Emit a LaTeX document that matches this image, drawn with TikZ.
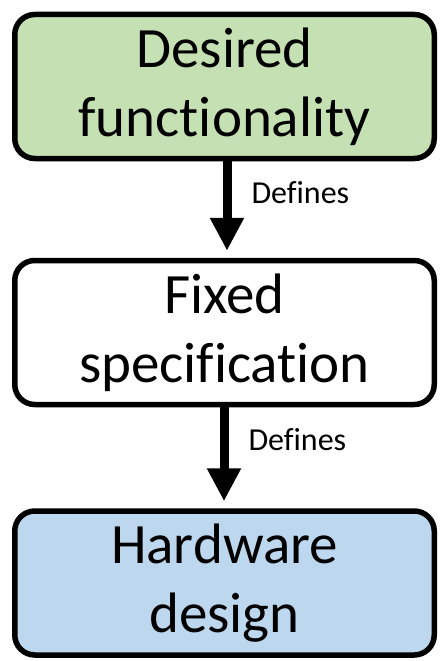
\documentclass[tikz,border=0pt]{standalone}
\usepackage{fontspec}
\setmainfont{Carlito}
\usepackage{xcolor}
\usepackage{tikz}
\usetikzlibrary{positioning, arrows.meta, calc}

\definecolor{boxgreen}{HTML}{C5E0B3}
\definecolor{boxblue}{HTML}{BDD7EE}

% break the font's ti / fi ligatures
\newcommand{\nolig}{\kern0pt{}}

\tikzset{
    stage/.style={draw=black, line width=5.5pt, rounded corners=20pt,
        minimum width=419.5pt, minimum height=144pt, align=center,
        font=\fontsize{57pt}{69pt}\selectfont},
    flow/.style={line width=9pt, -{Triangle[width=32pt,length=33pt]}},
    flowlabel/.style={inner sep=0pt, font=\fontsize{32pt}{38pt}\selectfont}
}

\begin{document}
\begin{tikzpicture}
        % fix page size to reference
        \useasboundingbox (0pt,0pt) rectangle (440pt,-661pt);
        
        % Draw the three stages
        \node[stage, fill=boxgreen] (desired) at (224.5pt,-86.5pt) {Desired\\funct\nolig ionality};
        \node[stage, fill=white] (fixed) at (224.5pt,-332.5pt) {Fixed\\speci\nolig f\nolig icat\nolig ion};
        \node[stage, fill=boxblue] (hardware) at (224.5pt,-583pt) {Hardware\\design};
        
        % Draw arrows between stages
        \draw[flow, shorten >=7pt] ([xshift=2.5pt]desired.south) -- ([xshift=2.5pt]fixed.north)
            node[flowlabel, pos=0.32, right=20pt] (lbl1) {Def\nolig ines};
        \draw[flow, shorten >=7pt] ([xshift=-0.5pt]fixed.south) -- ([xshift=-0.5pt]hardware.north)
            node[flowlabel, pos=0.32, right=20pt] (lbl2) {Def\nolig ines};
    \end{tikzpicture}
\end{document}
